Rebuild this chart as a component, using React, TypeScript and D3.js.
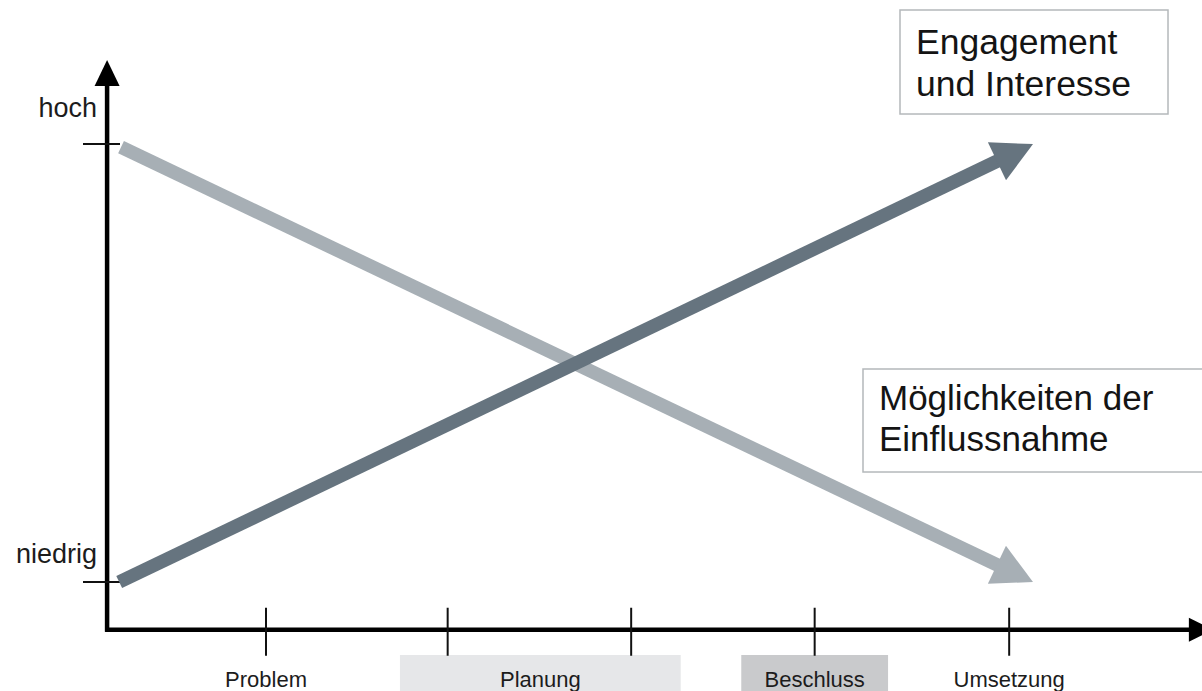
import { scaleLinear } from 'd3'

// phase positions on the time axis (1 unit = one phase step)
const phaseTicks = [1, 1.99, 2.99, 3.99, 5.05]
const phaseLabels = [
  { label: 'Problem', from: 1, to: 1, fill: 'none' },
  { label: 'Planung', from: 1.73, to: 3.26, fill: '#e6e7e9' },
  { label: 'Beschluss', from: 3.59, to: 4.39, fill: '#c9cacc' },
  { label: 'Umsetzung', from: 5.05, to: 5.05, fill: 'none' },
]

const levelTicks = [
  { label: 'hoch', value: 1 },
  { label: 'niedrig', value: 0 },
]

// start and end of the two trend arrows (x in phases, y 0 = niedrig, 1 = hoch)
const engagementLine = [
  { x: 0.2, y: 0 },
  { x: 5.18, y: 1 },
]
const einflussLine = [
  { x: 0.21, y: 0.993 },
  { x: 5.18, y: 0 },
]

const engagementText = ['Engagement', 'und Interesse']
const einflussText = ['Möglichkeiten der', 'Einflussnahme']

const WIDTH = 1202
const HEIGHT = 691
const FONT = '"Liberation Sans", Arial, Helvetica, sans-serif'
const LIGHT = '#a7afb5'
const DARK = '#66747f'

const x = scaleLinear().domain([0, 6]).range([82.5, 1183.5])
const y = scaleLinear().domain([0, 1]).range([582, 144])

const X_ORIGIN = 0.134
const X_END = 6.16
const Y_BOTTOM = -0.109
const Y_TOP = 1.192

const HEAD_LEN = 40
const HEAD_HALF = 21

const TrendArrow = ({
  points,
  color,
}: {
  points: { x: number; y: number }[]
  color: string
}) => {
  const [a, b] = points
  const x0 = x(a.x)
  const y0 = y(a.y)
  const x1 = x(b.x)
  const y1 = y(b.y)
  const len = Math.hypot(x1 - x0, y1 - y0)
  const ux = (x1 - x0) / len
  const uy = (y1 - y0) / len
  const bx = x1 - ux * HEAD_LEN
  const by = y1 - uy * HEAD_LEN
  const head = [
    [x1, y1],
    [bx - uy * HEAD_HALF, by + ux * HEAD_HALF],
    [bx + uy * HEAD_HALF, by - ux * HEAD_HALF],
  ]
  return (
    <g>
      <line
        x1={x0}
        y1={y0}
        x2={bx + ux * 6}
        y2={by + uy * 6}
        stroke={color}
        strokeWidth={13.5}
      />
      <polygon points={head.map((p) => p.join(',')).join(' ')} fill={color} />
    </g>
  )
}

export default function App() {
  const axisY = y(Y_BOTTOM)
  const axisX = x(X_ORIGIN)

  return (
    <svg
      width={WIDTH}
      height={HEIGHT}
      viewBox={`0 0 ${WIDTH} ${HEIGHT}`}
      style={{ position: 'absolute', left: 0, top: 0, background: '#fff' }}
      fontFamily={FONT}
    >
      <rect width={WIDTH} height={HEIGHT} fill="#fff" />

      {/* phase boxes below the time axis */}
      {phaseLabels.map((p) =>
        p.fill === 'none' ? null : (
          <rect
            key={`box-${p.label}`}
            x={x(p.from)}
            y={655}
            width={x(p.to) - x(p.from)}
            height={HEIGHT - 655}
            fill={p.fill}
          />
        ),
      )}
      {phaseLabels.map((p) => (
        <text
          key={p.label}
          x={(x(p.from) + x(p.to)) / 2}
          y={687}
          textAnchor="middle"
          fontSize={22}
          fill="#1c1c1c"
        >
          {p.label}
        </text>
      ))}

      {/* y axis */}
      <line x1={axisX} y1={axisY + 2} x2={axisX} y2={y(Y_TOP) + 20} stroke="#000" strokeWidth={4.5} />
      <polygon
        points={`${axisX},${y(Y_TOP)} ${axisX - 12.5},${y(Y_TOP) + 26} ${axisX + 12.5},${y(Y_TOP) + 26}`}
        fill="#000"
      />
      {levelTicks.map((t) => (
        <g key={t.label}>
          <line x1={83} x2={120} y1={y(t.value)} y2={y(t.value)} stroke="#111" strokeWidth={2} />
          <text
            x={97}
            y={y(t.value) - (t.value === 1 ? 27 : 19)}
            textAnchor="end"
            fontSize={27}
            fill="#1c1c1c"
          >
            {t.label}
          </text>
        </g>
      ))}

      {/* x axis */}
      <line x1={axisX - 2} y1={axisY} x2={x(X_END) - 20} y2={axisY} stroke="#000" strokeWidth={4.5} />
      <polygon
        points={`${x(X_END)},${axisY} ${x(X_END) - 24},${axisY - 12} ${x(X_END) - 24},${axisY + 12}`}
        fill="#000"
      />
      {phaseTicks.map((t) => (
        <line key={t} x1={x(t)} x2={x(t)} y1={axisY - 22} y2={axisY + 26} stroke="#111" strokeWidth={2} />
      ))}

      {/* trend arrows */}
      <TrendArrow points={einflussLine} color={LIGHT} />
      <TrendArrow points={engagementLine} color={DARK} />

      {/* label boxes */}
      <rect x={900} y={10} width={268} height={104} fill="#fff" stroke="#b4b8bb" strokeWidth={1.5} />
      {engagementText.map((line, i) => (
        <text key={line} x={916} y={54 + i * 42} fontSize={35.5} fill="#141414">
          {line}
        </text>
      ))}

      <rect x={863} y={369} width={360} height={103} fill="#fff" stroke="#b4b8bb" strokeWidth={1.5} />
      {einflussText.map((line, i) => (
        <text key={line} x={879} y={410 + i * 41} fontSize={35} fill="#141414">
          {line}
        </text>
      ))}
    </svg>
  )
}
